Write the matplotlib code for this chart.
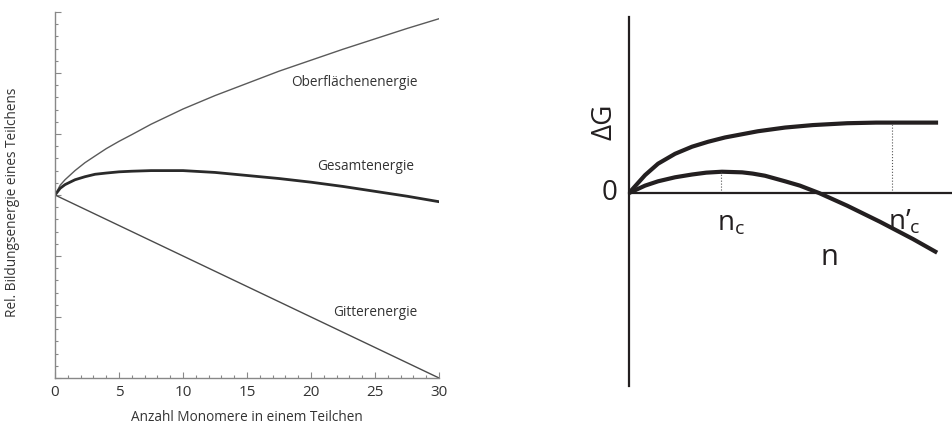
import numpy as np
import matplotlib.pyplot as plt

plt.rcParams['font.family'] = ['Open Sans', 'DejaVu Sans']
plt.rcParams['mathtext.fontset'] = 'custom'
plt.rcParams['mathtext.rm'] = 'Open Sans'
plt.rcParams['mathtext.it'] = 'Open Sans:italic'

# left panel: energies vs. number of monomers
n_mono = [0, 0.4, 0.78, 1.56, 2.34, 3.13, 4, 5, 6, 7.5, 10, 12.5, 15, 17.5,
          20, 22.5, 25, 27.5, 30]
surface = [0, 0.16, 0.25, 0.40, 0.53, 0.64, 0.76, 0.88, 0.99, 1.16, 1.41,
           1.63, 1.83, 2.03, 2.21, 2.39, 2.56, 2.73, 2.89]
total = [0, 0.11, 0.17, 0.25, 0.30, 0.34, 0.36, 0.38, 0.39, 0.40, 0.40,
         0.37, 0.32, 0.27, 0.21, 0.14, 0.06, -0.02, -0.11]
n_lat = [0, 10, 20, 30]
lattice = [0, -1.0, -2.0, -3.0]
x_ticks = [0, 5, 10, 15, 20, 25, 30]

# right panel: schematic dG(n) curves
n_upper = [0, 0.52, 0.94, 1.49, 2.04, 2.56, 3.11, 4.17, 5.05, 5.95, 7.06,
           8.0, 8.51, 10.0]
dg_upper = [0, 0.58, 0.95, 1.27, 1.50, 1.66, 1.80, 2.00, 2.12, 2.20, 2.26,
            2.28, 2.28, 2.28]
n_lower = [0, 0.52, 0.94, 1.49, 2.04, 2.5, 3.01, 3.66, 4.0, 4.40, 5.05, 5.53,
           6.15, 7.06, 8.12, 9.19, 9.97]
dg_lower = [0, 0.24, 0.38, 0.51, 0.60, 0.66, 0.69, 0.67, 0.63, 0.56, 0.38,
            0.24, 0, -0.41, -0.93, -1.49, -1.93]
n_c = 2.98
dg_c = 0.69
n_c2 = 8.5
dg_c2 = 2.28

fig = plt.figure(figsize=(9.52, 4.3), dpi=100)

# ---- left panel
ax = fig.add_axes([0.0578, 0.1209, 0.4034, 0.8512])
ax.plot(n_mono, surface, color='#5a5a5a', lw=1.0)
ax.plot(n_lat, lattice, color='#4a4a4a', lw=1.0)
ax.plot(n_mono, total, color='#2a2a2a', lw=2.0)
ax.set_xlim(0, 30)
ax.set_ylim(-3, 3)
for s in ['top', 'right']:
    ax.spines[s].set_visible(False)
for s in ['left', 'bottom']:
    ax.spines[s].set_color('#888888')
    ax.spines[s].set_linewidth(1.0)
ax.set_xticks(x_ticks)
ax.set_xticks(np.arange(0, 31, 1), minor=True)
ax.set_yticks(np.arange(-3, 4, 1))
ax.set_yticks(np.arange(-3, 3.01, 0.2), minor=True)
ax.set_yticklabels([])
ax.tick_params(direction='in', length=4.5, width=0.8, color='#888888',
               labelsize=11, pad=5, labelcolor='#333333')
ax.tick_params(which='minor', direction='in', length=2.5, width=0.8, color='#888888')
ax.set_xlabel('Anzahl Monomere in einem Teilchen', fontsize=9.8, color='#333333', labelpad=7)
ax.set_ylabel('Rel. Bildungsenergie eines Teilchens', fontsize=9.8, color='#333333')
ax.yaxis.set_label_coords(-0.091, 0.48)
ax.text(23.4, 1.84, 'Oberflächenenergie', fontsize=9.8, ha='center', va='center', color='#333333')
ax.text(24.3, 0.46, 'Gesamtenergie', fontsize=9.8, ha='center', va='center', color='#333333')
ax.text(25.0, -1.92, 'Gitterenergie', fontsize=9.8, ha='center', va='center', color='#333333')

# ---- right panel
bx = fig.add_axes([0.6607, 0.1023, 0.3393, 0.858])
bx.plot(n_upper, dg_upper, color='#231f20', lw=3.0, solid_capstyle='butt')
bx.plot(n_lower, dg_lower, color='#231f20', lw=3.0, solid_capstyle='butt')
bx.plot([n_c, n_c], [0, dg_c], color='#555555', lw=0.8, ls=':')
bx.plot([n_c2, n_c2], [0, dg_c2], color='#555555', lw=0.8, ls=':')
bx.set_xlim(0, 10.45)
bx.set_ylim(-6.246, 5.696)
for s in ['top', 'right']:
    bx.spines[s].set_visible(False)
bx.spines['left'].set_position(('data', 0))
bx.spines['bottom'].set_position(('data', 0))
for s in ['left', 'bottom']:
    bx.spines[s].set_color('#231f20')
    bx.spines[s].set_linewidth(1.6)
bx.set_xticks([])
bx.set_yticks([])
bx.patch.set_alpha(0)
bx.text(-0.62, 0.0, '0', fontsize=20, ha='center', va='center', color='#231f20', clip_on=False)
bx.text(-0.78, 2.30, 'ΔG', fontsize=20, rotation=90, ha='center', va='center',
        color='#231f20', clip_on=False)
bx.text(3.3, -1.0, r'$\mathregular{n_c}$', fontsize=20, ha='center', va='center', color='#231f20')
bx.text(8.9, -0.95, r'$\mathregular{n’_c}$', fontsize=20, ha='center', va='center', color='#231f20')
bx.text(6.5, -2.1, 'n', fontsize=21, ha='center', va='center', color='#231f20')

fig.savefig('out.png', dpi=100)
